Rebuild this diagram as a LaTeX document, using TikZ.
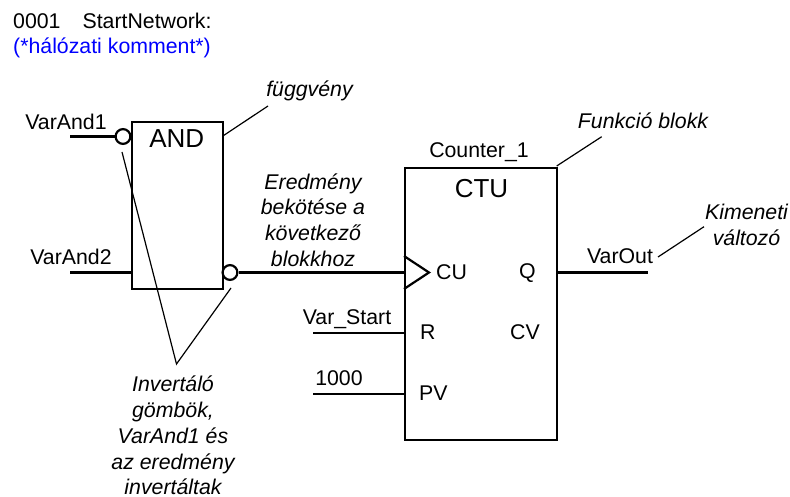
\documentclass[tikz,border=0pt]{standalone}
\usepackage{fontspec}
\setmainfont{Liberation Sans}
\definecolor{cmt}{RGB}{0,0,255}
\tikzset{
 blockbox/.style={draw,line width=2.2pt,inner sep=0pt,anchor=north west},
 wire/.style={line width=2.2pt},
 leader/.style={line width=1.2pt},
 inv/.style={circle,draw,line width=2.2pt,inner sep=0pt,minimum size=14.8pt,fill=white},
 txt/.style={inner sep=0pt,font=\fontsize{21.3}{25}\selectfont,text=black},
 note/.style={txt,font=\fontsize{21.3}{25.8}\selectfont\itshape,align=center},
 big/.style={inner sep=0pt,font=\fontsize{26}{30}\selectfont}
}
\begin{document}
\begin{tikzpicture}[x=1pt,y=-1pt]
\useasboundingbox (0,0) rectangle (790,497);
\node[txt,anchor=west] (hdr) at (13,20.5) {0001\hspace{22pt}StartNetwork:};
\node[txt,anchor=west,text=cmt] (cm) at (13,47.5) {(*hálózati komment*)};
% blocks
\node[blockbox,minimum width=91pt,minimum height=167pt] (and) at (131,121) {};
\node[blockbox,minimum width=152pt,minimum height=272pt] (ctu) at (404,167) {};
\node[big] (andt) at (176.7,138.5) {AND};
\node[big] (ctut) at (481.5,188.5) {CTU};
\node[txt] (cnt) at (479,152) {Counter\_1};
% inverters
\node[inv] (i1) at (123,136.5) {};
\node[inv] (i2) at (230,272.5) {};
% coords
\coordinate (a1) at (70,136.5);
\coordinate (a2) at (70,272.5);
\coordinate (a2e) at (131,272.5);
\coordinate (cu) at (404,272.5);
\coordinate (r0) at (313,333);
\coordinate (r1) at (404,333);
\coordinate (p0) at (313,394);
\coordinate (p1) at (404,394);
\coordinate (q0) at (556,272.5);
\coordinate (q1) at (648,272.5);
\coordinate (t1) at (404,256);
\coordinate (t2) at (429,272.5);
\coordinate (t3) at (404,289);
\coordinate (v) at (176.5,364);
\coordinate (l1) at (122,152);
\coordinate (l2) at (231,288);
\coordinate (f0) at (223.3,135.7);
\coordinate (f1) at (268,106);
\coordinate (g0) at (556.7,166);
\coordinate (g1) at (601.7,136.7);
\coordinate (k0) at (658,257);
\coordinate (k1) at (704,226.7);
% wires
\draw[wire] (a1) -- (i1.west);
\draw[wire] (a2) -- (a2e);
\draw[wire] (i2.east) -- (cu);
\draw[wire] (r0) -- (r1);
\draw[wire] (p0) -- (p1);
\draw[wire] (q0) -- (q1);
\draw[wire,line join=miter] (t1) -- (t2) -- (t3);
% leaders
\draw[leader] (l1) -- (v) -- (l2);
\draw[leader] (f0) -- (f1);
\draw[leader] (g0) -- (g1);
\draw[leader] (k0) -- (k1);
% labels
\node[txt] (va1) at (66,122) {VarAnd1};
\node[txt] (va2) at (71,257) {VarAnd2};
\node[txt] (vs) at (347,319) {Var\_Start};
\node[txt] (n1000) at (339,378) {1000};
\node[txt] (vo) at (620,256) {VarOut};
\node[txt,anchor=west] (lcu) at (436,272) {CU};
\node[txt,anchor=west] (lq) at (519,273) {Q};
\node[txt,anchor=west] (lr) at (420,332.5) {R};
\node[txt,anchor=west] (lcv) at (510,332.5) {CV};
\node[txt,anchor=west] (lpv) at (419,393) {PV};
% notes
\node[note] (nf) at (309.5,91) {függvény};
\node[note] (nb) at (643,120.5) {Funkció blokk};
\node[note] (ne) at (313,220) {Eredmény\\bekötése a\\következő\\blokkhoz};
\node[note] (nk) at (746.5,225) {Kimeneti\\változó};
\node[note] (ni) at (173,435.5) {Invertáló\\gömbök,\\VarAnd1 és\\az eredmény\\invertáltak};
\end{tikzpicture}
\end{document}
